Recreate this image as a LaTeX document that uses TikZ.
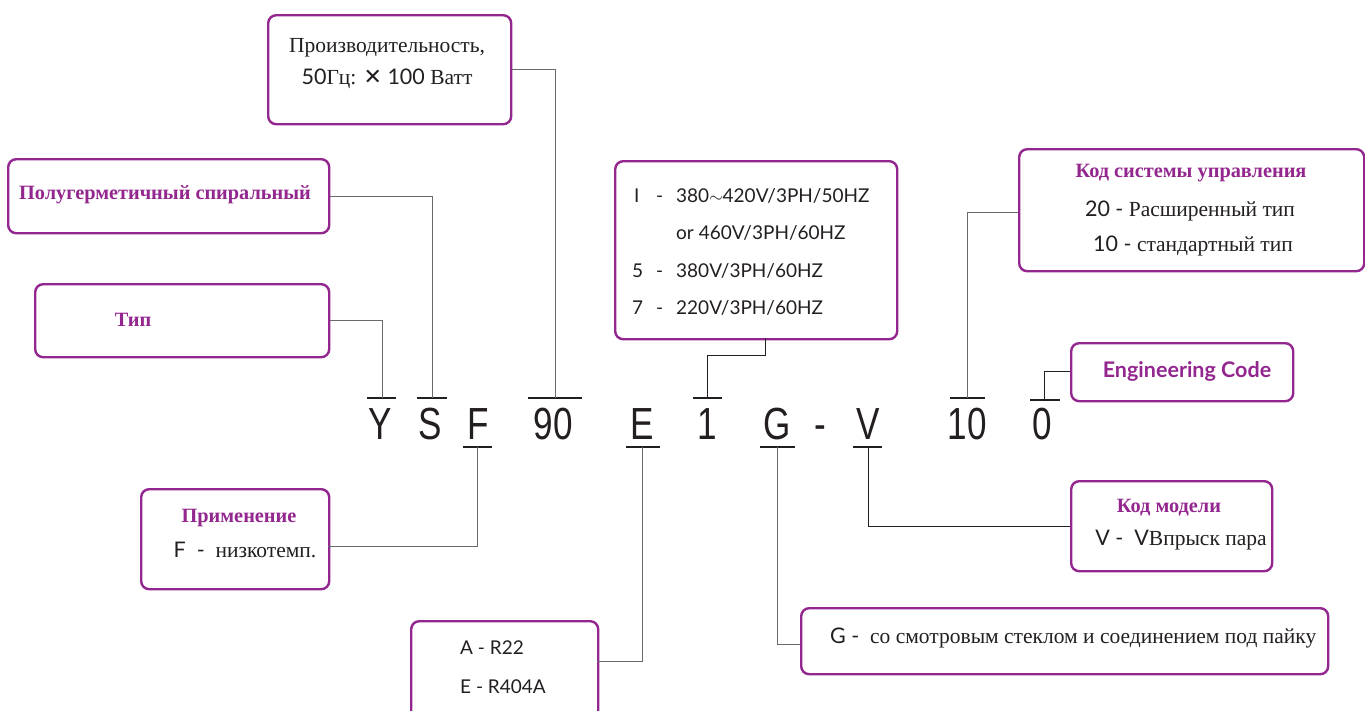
\documentclass[tikz,border=0pt]{standalone}
\usepackage{fontspec}
\setmainfont{Liberation Serif}
\newfontfamily\gsans{Lato}
\newfontfamily\dejavu{DejaVu Sans}
\newfontfamily\narrow[FakeStretch=0.78]{Liberation Sans}
\definecolor{pur}{HTML}{93278F}
\definecolor{ln}{HTML}{6A6A6A}
\definecolor{txt}{HTML}{231F20}
\newcommand\mybox[5]{\node[box,anchor=north west,minimum width=#4pt,minimum height=#5pt] (#1) at (#2,#3) {};}
\begin{document}
\begin{tikzpicture}[x=1pt,y=-1pt,
  box/.style={draw=pur,line width=2.4pt,rounded corners=8pt,inner sep=0pt,fill=white},
  conn/.style={draw=ln,line width=1pt},
  tickln/.style={draw=txt,line width=1.1pt},
  big/.style={font=\narrow\fontsize{45}{48}\selectfont,text=txt,inner sep=0pt,anchor=base},
  ser/.style={font=\fontsize{21.5}{24}\selectfont,text=txt,inner sep=0pt},
  head/.style={font=\bfseries\fontsize{20.3}{24}\selectfont,text=pur,inner sep=0pt},
  sns/.style={font=\gsans\fontsize{19}{22}\selectfont,text=txt,inner sep=0pt,anchor=base west}]
\clip (0,0) rectangle (1365,710);
\fill[white] (0,0) rectangle (1365,710);

% big code letters
\node[big] (lY) at (380,439) {Y};
\node[big] (lS) at (430,439) {S};
\node[big] (lF) at (478,439) {F};
\node[big] (l90) at (553,439) {90};
\node[big] (lE) at (642,439) {E};
\node[big] (l1) at (707,439) {1};
\node[big] (lG) at (777,439) {G};
\node[big] (lD) at (820,439) {-};
\node[big] (lV) at (868,439) {V};
\node[big] (l10) at (967,439) {10};
\node[big] (l0) at (1042,439) {0};

% boxes
\mybox{bP}{267}{14}{243}{109}
\mybox{bS}{7}{158}{321}{74}
\mybox{bT}{34}{283}{294}{73}
\mybox{bV}{614}{160}{282}{178}
\mybox{bK}{1018}{148}{345}{122}
\mybox{bEC}{1070}{342}{222}{58}
\mybox{bM}{1070}{480}{201}{90}
\mybox{bA}{140}{488}{188}{100}
\mybox{bR}{410}{620}{187}{100}
\mybox{bG}{800}{607}{527}{66}

% texts
\node[ser] (tP1) at (387,48) {Производительность,};
\node[ser] (tP2) at (387,79) {{\gsans 50}Гц: {\dejavu\fontsize{22}{24}\selectfont ✕}{\gsans\ 100} Ватт};
\node[head] (tS) at (165,195) {Полугерметичный спиральный};
\node[head] (tT) at (133,320) {Тип};
\node[sns] (tV1a) at (634,202) {I};
\node[sns] (tV1b) at (656,202) {-};
\node[sns] (tV1) at (676,202) {380$\sim$420V/3PH/50HZ};
\node[sns] (tV2) at (676,239) {or 460V/3PH/60HZ};
\node[sns] (tV3a) at (632,277) {5};
\node[sns] (tV3b) at (656,277) {-};
\node[sns] (tV3) at (676,277) {380V/3PH/60HZ};
\node[sns] (tV4a) at (632,314) {7};
\node[sns] (tV4b) at (656,314) {-};
\node[sns] (tV4) at (676,314) {220V/3PH/60HZ};
\node[head] (tK1) at (1191,173) {Код системы управления};
\node[ser] (tK2) at (1190,211) {{\gsans 20 -} Расширенный тип};
\node[ser] (tK3) at (1193,246) {{\gsans 10 -} стандартный тип};
\node[font=\gsans\bfseries\fontsize{21.5}{24}\selectfont,text=pur,inner sep=0pt] (tEC) at (1187,371) {Engineering Code};
\node[head] (tM1) at (1169,508) {Код модели};
\node[ser] (tM2) at (1181,540) {{\gsans V -\ \ V}Впрыск пара};
\node[head] (tA1) at (239,518) {Применение};
\node[ser] (tA2) at (245,550) {{\gsans F\ \ -}\ \ низкотемп.};
\node[sns] (tR1) at (460,654) {A - R22};
\node[sns] (tR2) at (460,693) {E - R404A};
\node[ser,anchor=west] (tG) at (830,638) {{\gsans G -}\ \ со смотровым стеклом и соединением под пайку};

% tick coordinates (above)
\coordinate (kY) at (382,398);
\coordinate (kS) at (432,398);
\coordinate (k90) at (555,398);
\coordinate (k1) at (707,398);
\coordinate (k10) at (967,398);
\coordinate (k0) at (1044,400);
% tick coordinates (below)
\coordinate (kF) at (477,447);
\coordinate (kE) at (642,447);
\coordinate (kG) at (777,447);
\coordinate (kV) at (868,447);

\draw[tickln] (367,398) -- (396,398);
\draw[tickln] (417,398) -- (447,398);
\draw[tickln] (528,398) -- (582,398);
\draw[tickln] (693,398) -- (722,398);
\draw[tickln] (950,398) -- (985,398);
\draw[tickln] (1030,400) -- (1060,400);
\draw[tickln] (463,447) -- (492,447);
\draw[tickln] (626,447) -- (660,447);
\draw[tickln] (760,447) -- (795,447);
\draw[tickln] (853,447) -- (882,447);

% connectors
\coordinate (v1) at (765,355);
\draw[conn] (bP.east) -| (k90);
\draw[conn] (bS.east) -| (kS);
\draw[conn] (bT.east) -| (kY);
\draw[conn,draw=txt] (765,338) -- (v1) -| (k1);
\coordinate (cK) at (1018,212);
\draw[conn] (cK) -| (k10);
\coordinate (cEC) at (1070,371);
\draw[conn,draw=txt] (cEC) -| (k0);
\coordinate (cA) at (328,546);
\draw[conn] (kF) |- (cA);
\coordinate (cR) at (597,661);
\draw[conn] (kE) |- (cR);
\coordinate (cG) at (800,644);
\draw[conn] (kG) |- (cG);
\coordinate (cM) at (1070,526);
\draw[conn,draw=txt] (kV) |- (cM);
\end{tikzpicture}
\end{document}
